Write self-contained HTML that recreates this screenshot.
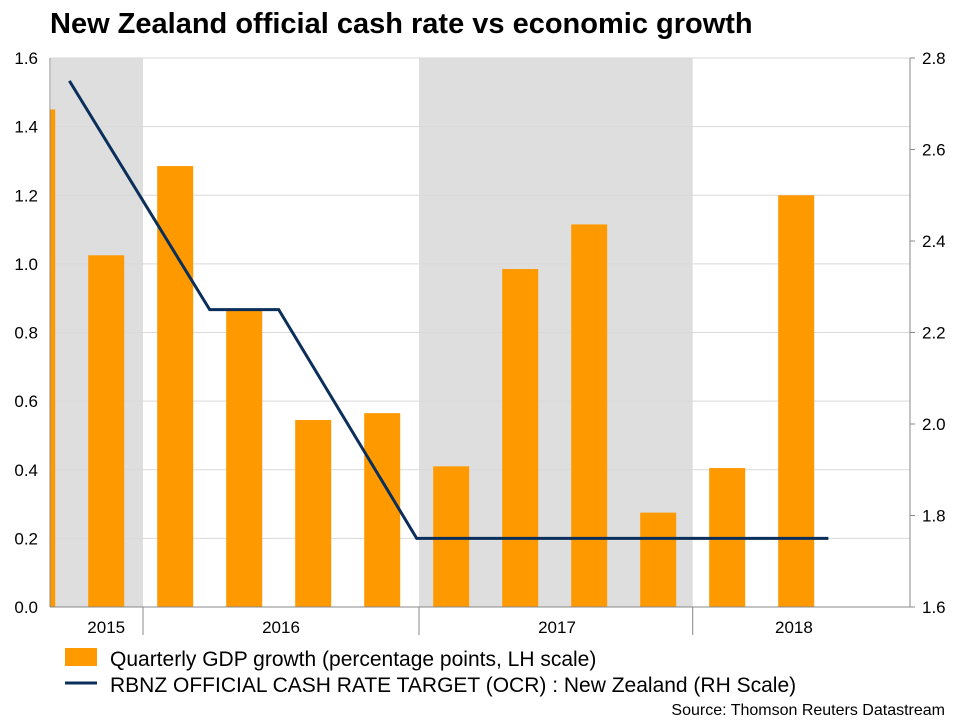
<!DOCTYPE html>
<html><head><meta charset="utf-8"><style>
body{margin:0;background:#fff;font-family:"Liberation Sans",Arial,sans-serif;}
</style></head><body>
<svg width="960" height="720" xmlns="http://www.w3.org/2000/svg" font-family="Liberation Sans, Arial, sans-serif">
<text x="50" y="33" font-size="29" font-weight="bold" fill="#000">New Zealand official cash rate vs economic growth</text>
<g id="plot"></g>
<g>
<rect x="65" y="648" width="32" height="18" fill="#ff9900"/>
<text x="110" y="666" font-size="21" fill="#000">Quarterly GDP growth (percentage points, LH scale)</text>
<line x1="65" y1="683" x2="97" y2="683" stroke="#0b2f5b" stroke-width="3"/>
<text x="110" y="692" font-size="21" fill="#000">RBNZ OFFICIAL CASH RATE TARGET (OCR) : New Zealand (RH Scale)</text>
</g>
<text x="945" y="715" font-size="16" text-anchor="end" fill="#000">Source: Thomson Reuters Datastream</text>
</svg>
<script>
const gdpMonths=[7.4,10.4,13.4,16.4,19.4,22.4,25.4,28.4,31.4,34.4,37.4,40.4];
const gdpValues=[1.45,1.025,1.285,0.865,0.545,0.565,0.41,0.985,1.115,0.275,0.405,1.20];
const ocrMonths=[8.8,14.9,17.9,23.9,41.8];
const ocrValues=[2.75,2.25,2.25,1.75,1.75];
const leftTicks=[0,0.2,0.4,0.6,0.8,1.0,1.2,1.4,1.6];
const rightTicks=[1.6,1.8,2.0,2.2,2.4,2.6,2.8];
const shadeRanges=[[8,12],[24,35.9]];
const yearLabels=["2015","2016","2017","2018"];
const yearLabelMonths=[10.4,18,30,40.3];
const yearDividers=[12,24,35.9];

const NS="http://www.w3.org/2000/svg";
const L=50,R=910,T=58,B=607;
const x=t=>143+(t-12)*23;
const yL=v=>B-(v-0)/1.6*(B-T);
const yR=v=>B-(v-1.6)/1.2*(B-T);
const g=document.getElementById('plot');
function mk(tag,a){const e=document.createElementNS(NS,tag);for(const k in a)e.setAttribute(k,a[k]);g.appendChild(e);return e;}
const defs=mk('defs',{});
const cp=document.createElementNS(NS,'clipPath');cp.setAttribute('id','clip');
const cr=document.createElementNS(NS,'rect');cr.setAttribute('x',L);cr.setAttribute('y',T);cr.setAttribute('width',R-L);cr.setAttribute('height',B-T);
cp.appendChild(cr);defs.appendChild(cp);
shadeRanges.forEach(r=>{
 const e=mk('rect',{x:Math.max(L,x(r[0])),y:T,width:x(r[1])-Math.max(L,x(r[0])),height:B-T,fill:'#dedede'});
 
 
});
leftTicks.forEach(v=>{
 const e=mk('line',{x1:L,x2:R,y1:yL(v),y2:yL(v),stroke:'#d9d9d9','stroke-width':1});
 
 
 const t=mk('text',{x:L-12,y:yL(v)+6,'font-size':17,'text-anchor':'end',fill:'#000'});
 t.textContent=v.toFixed(1);
 
 
});
rightTicks.forEach(v=>{
 const t=mk('text',{x:R+12,y:yR(v)+6,'font-size':17,fill:'#000'});
 t.textContent=v.toFixed(1);
 
 
 const k=mk('line',{x1:R,x2:R+5,y1:yR(v),y2:yR(v),stroke:'#888'});
 
 
});
const bw=36;
gdpMonths.forEach((m,i)=>{
 const e=mk('rect',{x:x(m)-bw/2,y:yL(gdpValues[i]),width:bw,height:B-yL(gdpValues[i]),fill:'#ff9900','clip-path':'url(#clip)'});
 
 
});
const p=mk('polyline',{points:ocrMonths.map((m,i)=>x(m)+','+yR(ocrValues[i])).join(' '),fill:'none',stroke:'#0b2f5b','stroke-width':3,'stroke-linejoin':'miter'});


const xa=mk('line',{x1:L,x2:R,y1:B,y2:B,stroke:'#888'});


const la=mk('line',{x1:L,x2:L,y1:T,y2:B,stroke:'#888'});


const ra=mk('line',{x1:R,x2:R,y1:T,y2:B,stroke:'#888'});


yearDividers.forEach(m=>{
 const e=mk('line',{x1:x(m),x2:x(m),y1:B,y2:B+28,stroke:'#888'});
 
 
});
yearLabels.forEach((lab,i)=>{
 const t=mk('text',{x:x(yearLabelMonths[i]),y:B+26,'font-size':17,'text-anchor':'middle',fill:'#000'});
 t.textContent=lab;
 
 
});
</script>
</body></html>
